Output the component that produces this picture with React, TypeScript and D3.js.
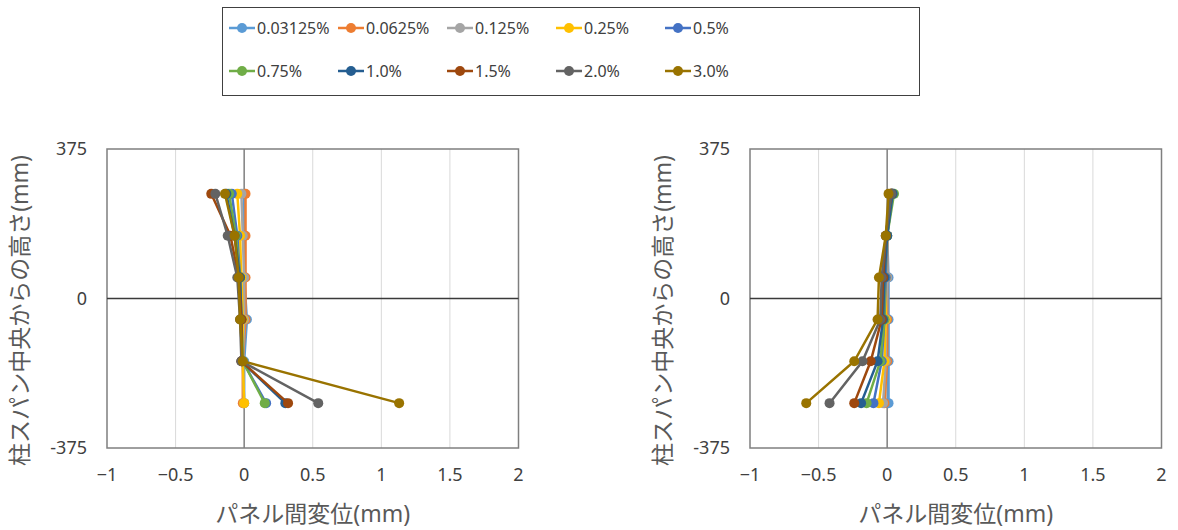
import React from "react";
import * as d3 from "d3";

const seriesNames = ["0.03125%", "0.0625%", "0.125%", "0.25%", "0.5%", "0.75%", "1.0%", "1.5%", "2.0%", "3.0%"];
const seriesColors = ["#5B9BD5", "#ED7D31", "#A5A5A5", "#FFC000", "#4472C4", "#70AD47", "#255E91", "#9E480E", "#636363", "#997300"];
const heights = [262.5, 157.5, 52.5, -52.5, -157.5, -262.5];

const leftValues = [
  [0.0, 0.0, 0.0, 0.02, 0.0, 0.0],
  [0.01, 0.01, 0.01, 0.01, -0.01, -0.01],
  [-0.02, -0.01, 0.0, 0.0, -0.01, 0.0],
  [-0.05, -0.03, -0.02, -0.01, -0.01, 0.0],
  [-0.09, -0.05, -0.03, -0.02, -0.01, 0.16],
  [-0.11, -0.06, -0.03, -0.02, -0.01, 0.15],
  [-0.13, -0.07, -0.03, -0.02, -0.02, 0.3],
  [-0.24, -0.1, -0.04, -0.02, -0.02, 0.32],
  [-0.21, -0.12, -0.05, -0.03, -0.02, 0.54],
  [-0.14, -0.07, -0.04, -0.03, -0.01, 1.13],
];

const rightValues = [
  [0.03, 0.0, 0.01, 0.01, 0.01, 0.01],
  [0.03, 0.0, 0.0, 0.0, 0.0, -0.02],
  [0.03, 0.0, 0.0, -0.01, -0.01, -0.03],
  [0.03, 0.0, -0.01, -0.01, -0.02, -0.06],
  [0.04, 0.0, -0.01, -0.02, -0.04, -0.1],
  [0.05, 0.0, -0.02, -0.02, -0.05, -0.15],
  [0.04, 0.0, -0.02, -0.03, -0.07, -0.19],
  [0.03, -0.01, -0.03, -0.04, -0.12, -0.24],
  [0.03, -0.01, -0.04, -0.05, -0.18, -0.42],
  [0.01, -0.01, -0.06, -0.07, -0.24, -0.59],
];

const xTicks = [-1, -0.5, 0, 0.5, 1, 1.5, 2];
const yTicks = [375, 0, -375];
const xTitle = "パネル間変位(mm)";
const yTitle = "柱スパン中央からの高さ(mm)";

const FONT = "'Noto Sans', 'Noto Sans CJK JP', sans-serif";

function Panel({ left, values }: { left: number; values: number[][] }) {
  const x = d3.scaleLinear().domain([-1, 2]).range([left, left + 411.5]);
  const y = d3.scaleLinear().domain([-375, 375]).range([448, 149]);
  const line = d3
    .line<[number, number]>()
    .x((d) => x(d[0]))
    .y((d) => y(d[1]));
  const [x0, x1] = x.range();
  const [y0, y1] = y.range();
  return (
    <g>
      {xTicks
        .filter((t) => t !== -1 && t !== 0 && t !== 2)
        .map((t) => (
          <line key={"g" + t} x1={x(t)} x2={x(t)} y1={y1} y2={y0} stroke="#d9d9d9" strokeWidth={1} />
        ))}
      <rect x={x0} y={y1} width={x1 - x0} height={y0 - y1} fill="none" stroke="#7f7f7f" strokeWidth={1.5} />
      <line x1={x(0)} x2={x(0)} y1={y1} y2={y0} stroke="#7f7f7f" strokeWidth={1.5} />
      <line x1={x0} x2={x1} y1={y(0)} y2={y(0)} stroke="#3a3a3a" strokeWidth={1.3} />
      {xTicks.map((t) => (
        <text key={"xt" + t} x={x(t)} y={481} textAnchor="middle" fontSize={18} fill="#404040" fontFamily={FONT}>
          {d3.format("")(t)}
        </text>
      ))}
      {yTicks.map((t) => (
        <text key={"yt" + t} x={x0 - 20} y={y(t) + 6} textAnchor="end" fontSize={18} fill="#404040" fontFamily={FONT}>
          {t}
        </text>
      ))}
      <text x={(x0 + x1) / 2} y={522} textAnchor="middle" fontSize={23} fill="#595959" fontFamily={FONT}>
        {xTitle}
      </text>
      <text
        transform={`translate(${x0 - 79},${(y0 + y1) / 2 + 12}) rotate(-90)`}
        textAnchor="middle"
        fontSize={23}
        fill="#595959"
        fontFamily={FONT}
      >
        {yTitle}
      </text>
      {values.map((vals, si) => {
        const pts: [number, number][] = vals.map((v, i) => [v, heights[i]]);
        return (
          <g key={"s" + si}>
            <path d={line(pts) || ""} fill="none" stroke={seriesColors[si]} strokeWidth={2.5} />
            {pts.map((p, i) => (
              <circle key={i} cx={x(p[0])} cy={y(p[1])} r={5} fill={seriesColors[si]} />
            ))}
          </g>
        );
      })}
    </g>
  );
}

function Legend() {
  const colX = (i: number) => 242 + (i % 5) * 109;
  const rowY = (i: number) => (i < 5 ? 28 : 71);
  return (
    <g>
      <rect x={222.5} y={7.5} width={697} height={88} fill="#fff" stroke="#404040" strokeWidth={1} />
      {seriesNames.map((n, i) => (
        <g key={n}>
          <line x1={colX(i) - 13} x2={colX(i) + 13} y1={rowY(i)} y2={rowY(i)} stroke={seriesColors[i]} strokeWidth={2.5} />
          <circle cx={colX(i)} cy={rowY(i)} r={5} fill={seriesColors[i]} />
          <text x={colX(i) + 15} y={rowY(i) + 6} fontSize={16} fill="#404040" fontFamily={FONT}>
            {n}
          </text>
        </g>
      ))}
    </g>
  );
}

export default function App() {
  return (
    <svg width={1178} height={530} style={{ position: "absolute", left: 0, top: 0, background: "#fff" }}>
      <rect width={1178} height={530} fill="#fff" />
      <Legend />
      <Panel left={107} values={leftValues} />
      <Panel left={750} values={rightValues} />
    </svg>
  );
}
